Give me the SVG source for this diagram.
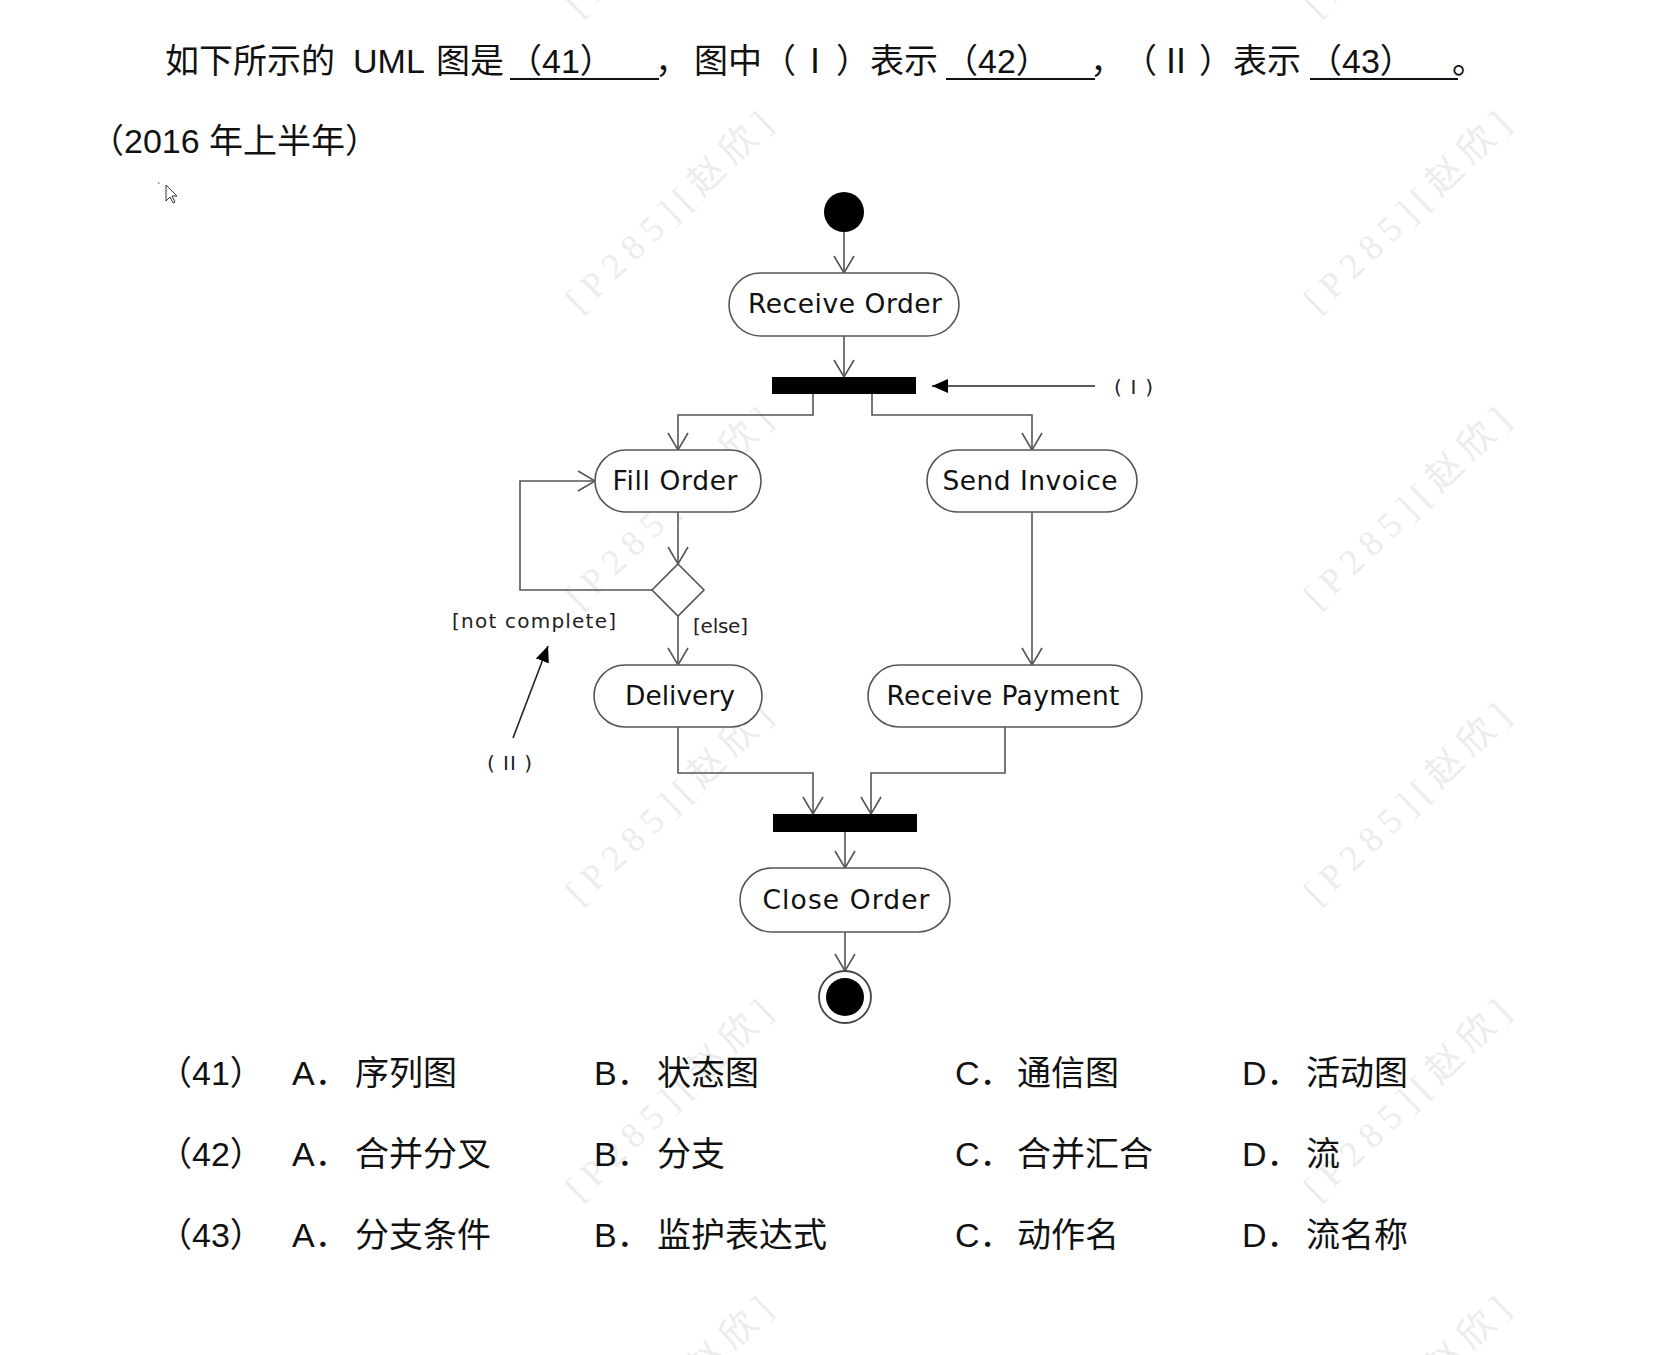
<svg xmlns="http://www.w3.org/2000/svg" width="1659" height="1355" viewBox="0 0 1659 1355">
<style>
.q{font-family:"Liberation Sans","Noto Sans CJK SC",sans-serif;font-size:34px;fill:#111}
.wm{font-family:"Liberation Serif","Noto Sans CJK SC",serif;font-size:36px;fill:#ececec}
.box{fill:#fff;stroke:#555;stroke-width:1.6}
.lbl{font-family:"DejaVu Sans","Noto Sans",sans-serif;font-size:26.5px;fill:#111;text-anchor:middle}
.sm{font-family:"DejaVu Sans","Noto Sans",sans-serif;font-size:20px;fill:#222}
.ln{fill:none;stroke:#555;stroke-width:1.6}
.ul{stroke:#111;stroke-width:2}
</style>
<defs>
<marker id="open" markerWidth="20" markerHeight="24" refX="18" refY="11" orient="auto" markerUnits="userSpaceOnUse">
<path d="M1,1 L18,11 L1,21" fill="none" stroke="#555" stroke-width="1.6"/>
</marker>
<marker id="solid" markerWidth="18" markerHeight="16" refX="16" refY="7" orient="auto" markerUnits="userSpaceOnUse">
<path d="M0,0 L16,7 L0,14 z" fill="#000"/>
</marker>
</defs>
<rect width="1659" height="1355" fill="#fff"/>
<g id="watermarks">
<text class="wm" text-anchor="middle" textLength="270" transform="translate(669,-84) rotate(-44)" dy="12">[P285][赵欣]</text>
<text class="wm" text-anchor="middle" textLength="270" transform="translate(669,212) rotate(-44)" dy="12">[P285][赵欣]</text>
<text class="wm" text-anchor="middle" textLength="270" transform="translate(669,508) rotate(-44)" dy="12">[P285][赵欣]</text>
<text class="wm" text-anchor="middle" textLength="270" transform="translate(669,804) rotate(-44)" dy="12">[P285][赵欣]</text>
<text class="wm" text-anchor="middle" textLength="270" transform="translate(669,1100) rotate(-44)" dy="12">[P285][赵欣]</text>
<text class="wm" text-anchor="middle" textLength="270" transform="translate(669,1397) rotate(-44)" dy="12">[P285][赵欣]</text>
<text class="wm" text-anchor="middle" textLength="270" transform="translate(1407,-84) rotate(-44)" dy="12">[P285][赵欣]</text>
<text class="wm" text-anchor="middle" textLength="270" transform="translate(1407,212) rotate(-44)" dy="12">[P285][赵欣]</text>
<text class="wm" text-anchor="middle" textLength="270" transform="translate(1407,508) rotate(-44)" dy="12">[P285][赵欣]</text>
<text class="wm" text-anchor="middle" textLength="270" transform="translate(1407,804) rotate(-44)" dy="12">[P285][赵欣]</text>
<text class="wm" text-anchor="middle" textLength="270" transform="translate(1407,1100) rotate(-44)" dy="12">[P285][赵欣]</text>
<text class="wm" text-anchor="middle" textLength="270" transform="translate(1407,1397) rotate(-44)" dy="12">[P285][赵欣]</text>
</g>
<g id="question">
<text class="q" y="73"><tspan x="165">如下所示的</tspan><tspan x="353">UML</tspan><tspan x="436">图是</tspan><tspan x="508">（41）</tspan><tspan x="655">，</tspan><tspan x="694">图中（</tspan><tspan x="798">Ⅰ</tspan><tspan x="836">）表示</tspan><tspan x="944">（42）</tspan><tspan x="1090">，</tspan><tspan x="1123">（</tspan><tspan x="1159">Ⅱ</tspan><tspan x="1199">）表示</tspan><tspan x="1308">（43）</tspan><tspan x="1452">。</tspan></text>
<line class="ul" x1="510" y1="79" x2="659" y2="79"/>
<line class="ul" x1="946" y1="79" x2="1095" y2="79"/>
<line class="ul" x1="1310" y1="79" x2="1458" y2="79"/>
<text class="q" x="90" y="153">（2016 年上半年）</text>
<path d="M158,183 l1.5,0 M166,185 l0,16 l4,-4 l3,6 l2,-1 l-3,-6 l5,0 z" fill="#fff" stroke="#333" stroke-width="1"/>
</g>
<g id="connectors">
<path class="ln" marker-end="url(#open)" d="M844,232 V273"/>
<path class="ln" marker-end="url(#open)" d="M844,336 V377"/>
<path class="ln" marker-end="url(#open)" d="M813,394 V415 H678 V450"/>
<path class="ln" marker-end="url(#open)" d="M872,394 V415 H1032 V450"/>
<path class="ln" marker-end="url(#open)" d="M678,512 V564"/>
<path class="ln" marker-end="url(#open)" d="M678,616 V665"/>
<path class="ln" marker-end="url(#open)" d="M652,590 H520 V481 H595"/>
<path class="ln" marker-end="url(#open)" d="M1032,512 V665"/>
<path class="ln" marker-end="url(#open)" d="M678,727 V773 H813 V814"/>
<path class="ln" marker-end="url(#open)" d="M1005,727 V773 H871 V814"/>
<path class="ln" marker-end="url(#open)" d="M845,832 V868"/>
<path class="ln" marker-end="url(#open)" d="M845,932 V971"/>
<text class="sm" x="693" y="633" textLength="55">[else]</text>
<text class="sm" x="452" y="628" textLength="164">[not complete]</text>
</g>
<g id="annotations">
<path d="M1095,386 H932" stroke="#222" stroke-width="1.6" fill="none" marker-end="url(#solid)"/>
<text class="sm" x="1114" y="394" textLength="39">( I )</text>
<path d="M513,738 L548,646" stroke="#222" stroke-width="1.6" fill="none" marker-end="url(#solid)"/>
<text class="sm" x="487" y="770" textLength="45">( II )</text>
</g>
<g id="start"><circle cx="844" cy="212" r="20" fill="#000"/></g>
<g id="receive-order"><rect class="box" x="729" y="273" width="230" height="63" rx="31.5"/><text class="lbl" x="845" y="313" textLength="194">Receive Order</text></g>
<g id="fork"><rect x="772" y="377" width="144" height="17" fill="#000"/></g>
<g id="fill-order"><rect class="box" x="595" y="450" width="166" height="62" rx="31"/><text class="lbl" x="675" y="490" textLength="125">Fill Order</text></g>
<g id="send-invoice"><rect class="box" x="927" y="450" width="210" height="62" rx="31"/><text class="lbl" x="1030" y="490" textLength="175">Send Invoice</text></g>
<g id="decision"><path d="M678,564 L704,590 L678,616 L652,590 z" fill="#fff" stroke="#555" stroke-width="1.6"/></g>
<g id="delivery"><rect class="box" x="594" y="665" width="168" height="62" rx="31"/><text class="lbl" x="680" y="705" textLength="110">Delivery</text></g>
<g id="receive-payment"><rect class="box" x="868" y="665" width="274" height="62" rx="31"/><text class="lbl" x="1003" y="705" textLength="233">Receive Payment</text></g>
<g id="join"><rect x="773" y="814" width="144" height="18" fill="#000"/></g>
<g id="close-order"><rect class="box" x="740" y="868" width="210" height="64" rx="32"/><text class="lbl" x="846" y="909" textLength="167">Close Order</text></g>
<g id="end"><circle cx="845" cy="997" r="26" fill="#fff" stroke="#444" stroke-width="1.8"/><circle cx="845" cy="997" r="19" fill="#000"/></g>
<g id="options">
<text class="q" y="1085"><tspan x="158">（41）</tspan><tspan x="292">A．</tspan><tspan x="355">序列图</tspan><tspan x="594">B．</tspan><tspan x="657">状态图</tspan><tspan x="955">C．</tspan><tspan x="1017">通信图</tspan><tspan x="1242">D．</tspan><tspan x="1306">活动图</tspan></text>
<text class="q" y="1166"><tspan x="158">（42）</tspan><tspan x="292">A．</tspan><tspan x="355">合并分叉</tspan><tspan x="594">B．</tspan><tspan x="657">分支</tspan><tspan x="955">C．</tspan><tspan x="1017">合并汇合</tspan><tspan x="1242">D．</tspan><tspan x="1306">流</tspan></text>
<text class="q" y="1247"><tspan x="158">（43）</tspan><tspan x="292">A．</tspan><tspan x="355">分支条件</tspan><tspan x="594">B．</tspan><tspan x="657">监护表达式</tspan><tspan x="955">C．</tspan><tspan x="1017">动作名</tspan><tspan x="1242">D．</tspan><tspan x="1306">流名称</tspan></text>
</g>
</svg>
